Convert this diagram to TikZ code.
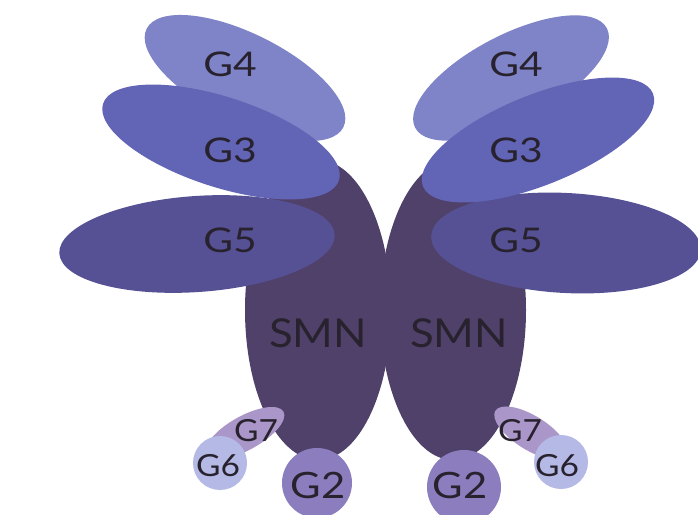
\documentclass[tikz,border=0pt]{standalone}
\usepackage{fontspec}
\setmainfont{Lato}
\definecolor{cGfour}{RGB}{127,132,200}
\definecolor{cGthree}{RGB}{98,101,182}
\definecolor{cGfive}{RGB}{86,81,148}
\definecolor{cSMN}{RGB}{80,65,106}
\definecolor{cGtwo}{RGB}{140,126,190}
\definecolor{cGseven}{RGB}{170,150,200}
\definecolor{cGsix}{RGB}{180,185,230}
\definecolor{cTxt}{RGB}{40,34,46}
\tikzset{
  lbl/.style={text=cTxt, inner sep=0pt, font=\fontsize{29}{29}\selectfont, xscale=1.2},
  lbltwo/.style={text=cTxt, inner sep=0pt, font=\fontsize{31}{31}\selectfont, xscale=1.15},
  lblsmn/.style={text=cTxt, inner sep=0pt, font=\fontsize{34}{34}\selectfont, xscale=1.1},
  lblsmall/.style={text=cTxt, inner sep=0pt, font=\fontsize{26}{26}\selectfont, xscale=1.1},
}
\begin{document}
\begin{tikzpicture}[x=0.03cm, y=-0.03cm]
\useasboundingbox (0,0) rectangle (698,515);
\clip (0,0) rectangle (698,515);
\fill[white] (0,0) rectangle (698,515);
% SMN bodies
\fill[cSMN] (318,310) ellipse [x radius=73, y radius=150];
\fill[cSMN] (453,310) ellipse [x radius=73, y radius=150];
% G4
\fill[cGfour] (245,78) ellipse [x radius=110, y radius=44, rotate=-26.6];
\fill[cGfour] (511,78) ellipse [x radius=108, y radius=43, rotate=27.4];
% G5
\fill[cGfive] (197,244) ellipse [x radius=138, y radius=48, rotate=4];
\fill[cGfive] (566,243) ellipse [x radius=135, y radius=50, rotate=-3];
% G3
\fill[cGthree] (221,142) ellipse [x radius=124, y radius=45, rotate=-18];
\fill[cGthree] (538,140) ellipse [x radius=124, y radius=45, rotate=22];
% bottom subunits
\fill[cGseven] (245,433) ellipse [x radius=44, y radius=17, rotate=29];
\fill[cGseven] (531,433) ellipse [x radius=42, y radius=17, rotate=-32];
\fill[cGsix] (220,463) circle [radius=27];
\fill[cGsix] (561,462) circle [radius=27];
\fill[cGtwo] (317,483) circle [radius=35];
\fill[cGtwo] (464,487) circle [radius=37];
% labels
\node[lbl] (g4l) at (230,64) {G4};
\node[lbl] (g3l) at (230,150) {G3};
\node[lbl] (g5l) at (230,240) {G5};
\node[lbl] (g4r) at (516,64) {G4};
\node[lbl] (g3r) at (516,150) {G3};
\node[lbl] (g5r) at (516,240) {G5};
\node[lblsmn] (smnl) at (318,333) {SMN};
\node[lblsmn] (smnr) at (459,333) {SMN};
\node[lbltwo] (g2l) at (318,485) {G2};
\node[lbltwo] (g2r) at (460,485) {G2};
\node[lblsmall] (g7l) at (256,431) {G7};
\node[lblsmall] (g6l) at (218,466) {G6};
\node[lblsmall] (g7r) at (520,431) {G7};
\node[lblsmall] (g6r) at (557,466) {G6};
\end{tikzpicture}
\end{document}
